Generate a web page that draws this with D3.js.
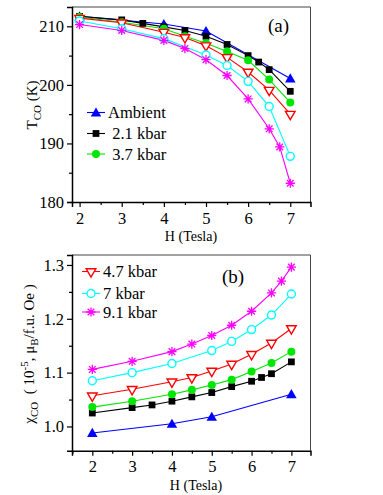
<!DOCTYPE html>
<html>
<head>
<meta charset="utf-8">
<script src="https://cdn.jsdelivr.net/npm/d3@7"></script>
<style>
body { margin:0; background:#fff; }
text { font-family: "Liberation Serif", "DejaVu Serif", serif; fill:#000; }
</style>
</head>
<body>
<script>
// field values (Tesla) for each series
let xAmbient = [2, 4, 5, 7]
let x21 = [2, 3, 3.5, 4, 4.5, 5, 5.5, 6, 6.25, 6.5, 7]
let x37 = [2, 3, 4, 4.5, 5, 5.5, 6, 6.5, 7]
let x47 = [2, 3, 4, 4.5, 5, 5.5, 6, 6.5, 7]
let x70 = [2, 3, 4, 5, 5.5, 6, 6.5, 7]
let x91 = [2, 3, 4, 4.5, 5, 5.5, 6, 6.5, 6.75, 7]

// panel (a): T_CO (K)
let tAmbient = [211.7, 210.4, 209.2, 201.1]
let t21 = [211.7, 211.1, 210.5, 209.9, 209.3, 208.3, 206.9, 205.0, 203.9, 202.6, 198.9]
let t37 = [211.6, 210.7, 209.6, 208.3, 207.1, 205.7, 204.2, 200.9, 197.0]
let t47 = [211.4, 210.6, 209.0, 208.1, 206.7, 204.7, 202.2, 199.1, 195.0]
let t70 = [210.9, 209.6, 207.9, 205.1, 203.3, 200.6, 196.3, 187.8]
let t91 = [210.3, 209.3, 207.6, 206.2, 204.3, 201.6, 197.6, 192.5, 189.4, 183.2]

// panel (b): chi_CO
let cAmbient = [0.988, 1.005, 1.018, 1.060]
let c21 = [1.025, 1.035, 1.040, 1.047, 1.055, 1.063, 1.074, 1.084, 1.091, 1.098, 1.120]
let c37 = [1.036, 1.047, 1.060, 1.068, 1.077, 1.087, 1.102, 1.118, 1.139]
let c47 = [1.057, 1.069, 1.083, 1.091, 1.103, 1.116, 1.134, 1.155, 1.182]
let c70 = [1.085, 1.100, 1.117, 1.141, 1.158, 1.180, 1.207, 1.246]
let c91 = [1.106, 1.121, 1.139, 1.153, 1.169, 1.188, 1.214, 1.248, 1.270, 1.296]

let seriesNames = ["Ambient", " 2.1 kbar", " 3.7 kbar", "4.7 kbar", "7 kbar", "9.1 kbar"]
let xTicks = [2, 3, 4, 5, 6, 7]
let tTicks = [180, 190, 200, 210]
let cTicks = [1.0, 1.1, 1.2, 1.3]

let colors = ["#0000ff", "#000000", "#00e600", "#ff0000", "#00ffff", "#ff00ff"]
let shapes = ["tri", "square", "circle", "tridown", "ocircle", "star"]

let W = 383, H = 495

let svg = d3.select("body").append("svg")
    .attr("width", W).attr("height", H)

function markerPath(shape){
    if(shape == "tri") return d3.symbol(d3.symbolTriangle, 48)()
    if(shape == "square") return d3.symbol(d3.symbolSquare, 46)()
    if(shape == "circle" || shape == "ocircle") return d3.symbol(d3.symbolCircle, 50)()
    if(shape == "tridown") return d3.symbol(d3.symbolTriangle, 40)()
    //asterisk with 8 arms
    let r = 4.6, a = r*0.72
    return `M${-r},0L${r},0M0,${-r}L0,${r}M${-a},${-a}L${a},${a}M${-a},${a}L${a},${-a}`
}

function drawMarker(g, i, x, y){
    let s = shapes[i]
    let p = g.append("path")
        .attr("d", markerPath(s))
        .attr("transform", `translate(${x},${y})` + (s == "tridown" ? " rotate(180)" : "") + (s == "tri" ? " translate(0,1)" : ""))
    if(s == "ocircle" || s == "tridown"){
        p.attr("fill", "#fff").attr("stroke", colors[i]).attr("stroke-width", 1.4)
    } else if(s == "star"){
        p.attr("fill", "none").attr("stroke", colors[i]).attr("stroke-width", 1.3)
    } else {
        p.attr("fill", colors[i]).attr("stroke", "none")
    }
}

function drawPanel(opt){
    let x = d3.scaleLinear().domain(opt.xdom).range([72, 310.5])
    let y = d3.scaleLinear().domain(opt.ydom).range([opt.bottom, opt.top])
    let g = svg.append("g")

    // frame: top and right thin
    g.append("line").attr("x1", 72).attr("x2", 310.5).attr("y1", opt.top).attr("y2", opt.top)
        .attr("stroke", "#444").attr("stroke-width", 1)
    g.append("line").attr("x1", 310.5).attr("x2", 310.5).attr("y1", opt.top).attr("y2", opt.bottom)
        .attr("stroke", "#444").attr("stroke-width", 1)

    // x axis
    let xAxis = d3.axisBottom(x).tickValues(xTicks).tickSize(5).tickPadding(5).tickFormat(d3.format("d"))
    let xa = g.append("g").attr("transform", `translate(0,${opt.bottom})`).call(xAxis)
    let xMinor = d3.axisBottom(x).tickValues(opt.xminor).tickSize(3).tickFormat("")
    let xm = g.append("g").attr("transform", `translate(0,${opt.bottom})`).call(xMinor)

    // y axis
    let yAxis = d3.axisLeft(y).tickValues(opt.yticks).tickSize(5).tickPadding(3).tickFormat(opt.yfmt)
    let ya = g.append("g").attr("transform", "translate(72,0)").call(yAxis)
    let yMinor = d3.axisLeft(y).tickValues(opt.yminor).tickSize(3).tickFormat("")
    let ym = g.append("g").attr("transform", "translate(72,0)").call(yMinor)

    ;[xa, xm, ya, ym].forEach(a => {
        a.attr("font-family", "Liberation Serif")
        a.select(".domain").attr("stroke", "#000").attr("stroke-width", 1.5)
        a.selectAll(".tick line").attr("stroke", "#000").attr("stroke-width", 1.2)
        a.selectAll("text").style("font-family", "Liberation Serif").style("font-size", "16.5px").attr("fill", "#000")
    })
    xm.select(".domain").remove()
    ym.select(".domain").remove()

    // series
    let line = d3.line().x(d => x(d[0])).y(d => y(d[1]))
    opt.series.forEach((s, i) => {
        let pts = d3.zip(s.xs, s.ys)
        g.append("path").datum(pts).attr("d", line)
            .attr("fill", "none").attr("stroke", colors[i]).attr("stroke-width", 1.1)
    })
    opt.series.forEach((s, i) => {
        d3.zip(s.xs, s.ys).forEach(d => drawMarker(g, i, x(d[0]), y(d[1])))
    })

    // legend
    opt.legend.forEach((li, k) => {
        let ly = opt.legendY[k]
        g.append("line").attr("x1", opt.legendX).attr("x2", opt.legendX + 18)
            .attr("y1", ly).attr("y2", ly).attr("stroke", colors[li]).attr("stroke-width", 1.1)
        drawMarker(g, li, opt.legendX + 9, ly)
        g.append("text").attr("x", opt.legendX + 21).attr("y", ly + 5.5)
            .style("font-size", "16.5px").style("white-space", "pre")
            .text(seriesNames[li])
    })

    // panel tag
    g.append("text").attr("x", opt.tagX).attr("y", opt.tagY)
        .style("font-size", "19px").text(opt.tag)

    // x label
    g.append("text").attr("x", opt.hx).attr("y", opt.bottom + 39)
        .attr("text-anchor", "middle").style("font-size", "14px").text("H (Tesla)")

    return {x, y, g}
}

// panel (a)
let pa = drawPanel({
    xdom: [1.82, 7.48], ydom: [180, 213.3], top: 7, bottom: 202,
    xminor: [2.5, 3.5, 4.5, 5.5, 6.5], yticks: tTicks, yminor: [185, 195, 205],
    yfmt: d3.format("d"),
    series: [
        {xs: xAmbient, ys: tAmbient}, {xs: x21, ys: t21}, {xs: x37, ys: t37},
        {xs: x47, ys: t47}, {xs: x70, ys: t70}, {xs: x91, ys: t91}
    ],
    legend: [0, 1, 2], legendX: 87, legendY: [112.5, 133.5, 154],
    tag: "(a)", tagX: 268, tagY: 32, hx: 191
})

// panel (b)
let pb = drawPanel({
    xdom: [1.49, 7.48], ydom: [0.955, 1.3185], top: 255, bottom: 450.7,
    xminor: [1.5, 2.5, 3.5, 4.5, 5.5, 6.5], yticks: cTicks, yminor: [1.05, 1.15, 1.25],
    yfmt: d3.format(".1f"),
    series: [
        {xs: xAmbient, ys: cAmbient}, {xs: x21, ys: c21}, {xs: x37, ys: c37},
        {xs: x47, ys: c47}, {xs: x70, ys: c70}, {xs: x91, ys: c91}
    ],
    legend: [3, 4, 5], legendX: 82, legendY: [271.5, 293.5, 312],
    tag: "(b)", tagX: 222, tagY: 283, hx: 196
})

// y labels
let yl1 = svg.append("text")
    .attr("transform", "translate(37,105) rotate(-90)")
    .attr("text-anchor", "middle").style("font-size", "15px")
yl1.append("tspan").text("T")
yl1.append("tspan").attr("dy", 4).style("font-size", "11px").text("CO")
yl1.append("tspan").attr("dy", -4).text(" (K)")

let yl2 = svg.append("text")
    .attr("transform", "translate(34,354) rotate(-90)")
    .attr("text-anchor", "middle").style("font-size", "15px")
    .style("white-space", "pre")
yl2.append("tspan").text("\u03c7")
yl2.append("tspan").attr("dy", 4).style("font-size", "11px").text("CO")
yl2.append("tspan").attr("dy", -4).text("  ( 10")
yl2.append("tspan").attr("dy", -6).style("font-size", "11px").text("-5")
yl2.append("tspan").attr("dy", 6).text(", \u03bc")
yl2.append("tspan").attr("dy", 4).style("font-size", "11px").text("B")
yl2.append("tspan").attr("dy", -4).text("/f.u. Oe )")
</script>
</body>
</html>
